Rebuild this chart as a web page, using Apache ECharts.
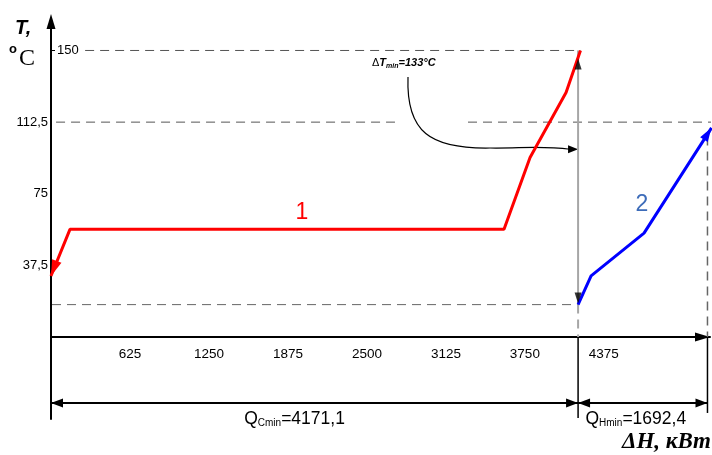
<!DOCTYPE html>
<html><head><meta charset="utf-8">
<script src="https://cdn.jsdelivr.net/npm/echarts@6/dist/echarts.min.js"></script>
<style>html,body{margin:0;padding:0;background:#fff}#c{width:712px;height:455px}</style>
</head><body><div id="c"></div>
<script>
// ---------- data ----------
const yTicks = [37.5, 75, 112.5];
const yTopTick = [150];
const xTicks = [625, 1250, 1875, 2500, 3125, 3750, 4375];
const line1H = [0, 150, 3585, 3791, 4076, 4190];
const line1T = [32, 56.4, 56.4, 94, 128, 150];
const line2H = [4171.1, 4274, 4693, 5227];
const line2T = [17, 32, 54.4, 109.5];
const tHigh = 150, tLow = 17, dTmin = 133;
const qCmin = 4171.1, qHmin = 1692.4;
const hRight = 5195;
const t112 = 112.5;
const guide150H = [270, 4190];
const guide112H = [40, 2722, 3300, 5231];
const guideLowH = [8, qCmin];
const rightGuideT = [105, 0];
const dimT = -34.5;
const extBottomT = [-42.3, -39.7];
const annotT = 98.3;
const label1Pos = [1985, 65];
const label2Pos = [4677, 69.5];

// ---------- chart ----------
const FONT = '"Liberation Sans", Arial, sans-serif';
const xMax = 5215, yMin = -42.86, yMax = 165.16;
const gridTop = 21.5, gridBottom = 36, chartH = 455;
const plotH = chartH - gridTop - gridBottom;
const xAxisOffset = -(0 - yMin) / (yMax - yMin) * plotH; // put the H axis at T = 0
const fmt = v => String(v).replace('.', ',');
const chart = echarts.init(document.getElementById('c'), null, {renderer: 'canvas'});

function seg(points, color, width, type, extra) {
  return Object.assign({
    type: 'line', data: points, symbol: 'none', silent: true, clip: false,
    lineStyle: {color: color, width: width, type: type}, itemStyle: {color: color}, z: 2
  }, extra || {});
}

const red = line1H.map((h, i) => {
  const it = {value: [h, line1T[i]]};
  if (i === 0) Object.assign(it, {symbol: 'triangle', symbolSize: [10, 16], symbolRotate: 159, symbolOffset: [2.9, -7.5]});
  return it;
});
const blue = line2H.map((h, i) => {
  const it = {value: [h, line2T[i]]};
  if (i === line2H.length - 1) Object.assign(it, {symbol: 'triangle', symbolSize: [9, 14], symbolRotate: -32.5, symbolOffset: [-3.8, 5.9]});
  return it;
});
function dim(h0, h1) {
  return [
    {value: [h0, dimT], symbol: 'triangle', symbolSize: [9, 12], symbolRotate: 90, symbolOffset: [6, 0]},
    {value: [h1, dimT], symbol: 'triangle', symbolSize: [9, 12], symbolRotate: -90, symbolOffset: [-6, 0]}
  ];
}
const dash = [9, 6];

const option = {
  animation: false,
  backgroundColor: '#fff',
  grid: {left: 51, right: 2, top: gridTop, bottom: gridBottom, outerBoundsMode: 'none'},
  xAxis: {
    type: 'value', min: 0, max: xMax, position: 'bottom', offset: xAxisOffset,
    splitLine: {show: false}, axisTick: {show: false},
    axisLine: {onZero: false, lineStyle: {color: '#000', width: 2}, symbol: ['none', 'triangle'], symbolSize: [9, 15], symbolOffset: [0, -7.5]},
    axisLabel: {customValues: xTicks, formatter: v => String(v), margin: 10, fontSize: 13.5, color: '#000', fontFamily: FONT}
  },
  yAxis: [{
    type: 'value', min: yMin, max: yMax, position: 'left', splitLine: {show: false}, axisTick: {show: false},
    axisLine: {onZero: false, lineStyle: {color: '#000', width: 2}, symbol: ['none', 'triangle'], symbolSize: [9, 15]},
    axisLabel: {customValues: yTicks, formatter: fmt, margin: 3, fontSize: 13, color: '#000', fontFamily: FONT}
  }, {
    type: 'value', min: yMin, max: yMax, position: 'left', offset: 0, splitLine: {show: false},
    axisLine: {show: false, onZero: false},
    axisTick: {show: true, inside: true, length: 4, customValues: yTopTick, lineStyle: {color: '#000', width: 1}},
    axisLabel: {inside: true, customValues: yTopTick, formatter: fmt, margin: 6, fontSize: 13, color: '#000', fontFamily: FONT}
  }],
  series: [
    seg([[guide150H[0], tHigh], [guide150H[1], tHigh]], '#555', 1, dash),
    seg([[guide112H[0], t112], [guide112H[1], t112]], '#555', 1, dash),
    seg([[guide112H[2], t112], [guide112H[3], t112]], '#555', 1, dash),
    seg([[guideLowH[0], tLow], [guideLowH[1], tLow]], '#666', 1, dash),
    seg([[hRight, rightGuideT[0]], [hRight, rightGuideT[1]]], '#666', 1.5, dash),
    seg([[qCmin, tHigh], [qCmin, tLow]], '#a6a6a6', 2, 'solid'),
    seg([[qCmin, tLow], [qCmin, 0]], '#a6a6a6', 2, dash),
    seg([[qCmin, 0], [qCmin, extBottomT[0]]], '#000', 1.5, 'solid'),
    seg([[hRight, 0], [hRight, extBottomT[1]]], '#000', 1.5, 'solid'),
    seg(dim(0, qCmin), '#000', 2, 'solid', {z: 3}),
    seg(dim(qCmin, hRight), '#000', 2, 'solid', {z: 3}),
    {type: 'line', data: red, symbol: 'none', silent: true, clip: false, z: 5,
     lineStyle: {color: '#ff0000', width: 3}, itemStyle: {color: '#ff0000'}},
    {type: 'line', data: blue, symbol: 'none', silent: true, clip: false, z: 5,
     lineStyle: {color: '#0000ff', width: 3}, itemStyle: {color: '#0000ff'}},
    {type: 'scatter', silent: true, z: 6, itemStyle: {color: '#000'},
     data: [
       {value: [qCmin, tHigh - 4.2], symbol: 'triangle', symbolSize: [7, 11], symbolRotate: 0, symbolOffset: [0, 5.5]},
       {value: [qCmin, tLow + 0.6], symbol: 'triangle', symbolSize: [7, 11], symbolRotate: 180, symbolOffset: [0, -5.5]}
     ]}
  ]
};
chart.setOption(option);

const P = v => chart.convertToPixel({xAxisIndex: 0, yAxisIndex: 0}, v);
const E = P([qCmin, annotT]);
const L1 = P(label1Pos), L2 = P(label2Pos);
const q1 = P([qCmin / 2, dimT]);
const q2 = P([(qCmin + hRight) / 2, dimT]);

chart.setOption({
  graphic: {elements: [
    {type: 'text', x: 15, y: 28.5, style: {text: 'T,', font: 'italic bold 20px "Liberation Sans", Arial', fill: '#000', align: 'left', verticalAlign: 'middle'}},
    {type: 'text', x: 13, y: 49.5, style: {text: 'o', font: 'bold 13px "Liberation Sans", Arial', fill: '#000', align: 'center', verticalAlign: 'middle'}},
    {type: 'text', x: 19, y: 58.5, style: {text: 'C', font: '24px "Liberation Serif", "Times New Roman", serif', fill: '#000', align: 'left', verticalAlign: 'middle'}},
    {type: 'text', x: 711, y: 442, style: {text: 'ΔH, кВт', font: 'italic bold 23px "Liberation Serif", "Times New Roman", serif', fill: '#000', align: 'right', verticalAlign: 'middle'}},
    {type: 'text', x: L1[0], y: L1[1], style: {text: '1', font: '23px "Liberation Sans", Arial', fill: '#ff0000', align: 'center', verticalAlign: 'middle'}},
    {type: 'text', x: L2[0], y: L2[1], style: {text: '2', font: '23px "Liberation Sans", Arial', fill: '#3d6cb9', align: 'center', verticalAlign: 'middle'}},
    {type: 'text', x: 372, y: 63, style: {
      text: '{a|Δ}{b|T}{c|min}{b|=' + dTmin + '°C}', align: 'left', verticalAlign: 'middle',
      rich: {
        a: {font: '11px "Liberation Sans", Arial', fill: '#000', lineHeight: 14, verticalAlign: 'middle'},
        b: {font: 'italic bold 11px "Liberation Sans", Arial', fill: '#000', lineHeight: 14, verticalAlign: 'middle'},
        c: {font: 'italic bold 7px "Liberation Sans", Arial', fill: '#000', lineHeight: 8, verticalAlign: 'bottom'}
      }}},
    {type: 'text', x: q1[0] - 20, y: 419, style: {
      text: '{q|Q}{s|Cmin}{q|=' + fmt(qCmin) + '}', align: 'center', verticalAlign: 'middle',
      rich: {
        q: {font: '17.5px "Liberation Sans", Arial', fill: '#000', lineHeight: 18, verticalAlign: 'middle'},
        s: {font: '10px "Liberation Sans", Arial', fill: '#000', lineHeight: 12, verticalAlign: 'bottom'}
      }}},
    {type: 'text', x: q2[0] - 7, y: 419, style: {
      text: '{q|Q}{s|Hmin}{q|=' + fmt(qHmin) + '}', align: 'center', verticalAlign: 'middle',
      rich: {
        q: {font: '17.5px "Liberation Sans", Arial', fill: '#000', lineHeight: 18, verticalAlign: 'middle'},
        s: {font: '10px "Liberation Sans", Arial', fill: '#000', lineHeight: 12, verticalAlign: 'bottom'}
      }}},
    {type: 'bezierCurve', shape: {x1: 408, y1: 77, cpx1: 406, cpy1: 132, cpx2: 430, cpy2: 149, x2: 490, y2: 148},
     style: {stroke: '#000', lineWidth: 1.2, fill: null}},
    {type: 'bezierCurve', shape: {x1: 490, y1: 148, cpx1: 520, cpy1: 148.5, cpx2: 540, cpy2: 145.5, x2: E[0] - 8, y2: E[1]},
     style: {stroke: '#000', lineWidth: 1.2, fill: null}},
    {type: 'polygon', shape: {points: [[E[0], E[1]], [E[0] - 10, E[1] - 4], [E[0] - 10, E[1] + 4]]}, style: {fill: '#000'}}
  ]}
});
</script></body></html>
